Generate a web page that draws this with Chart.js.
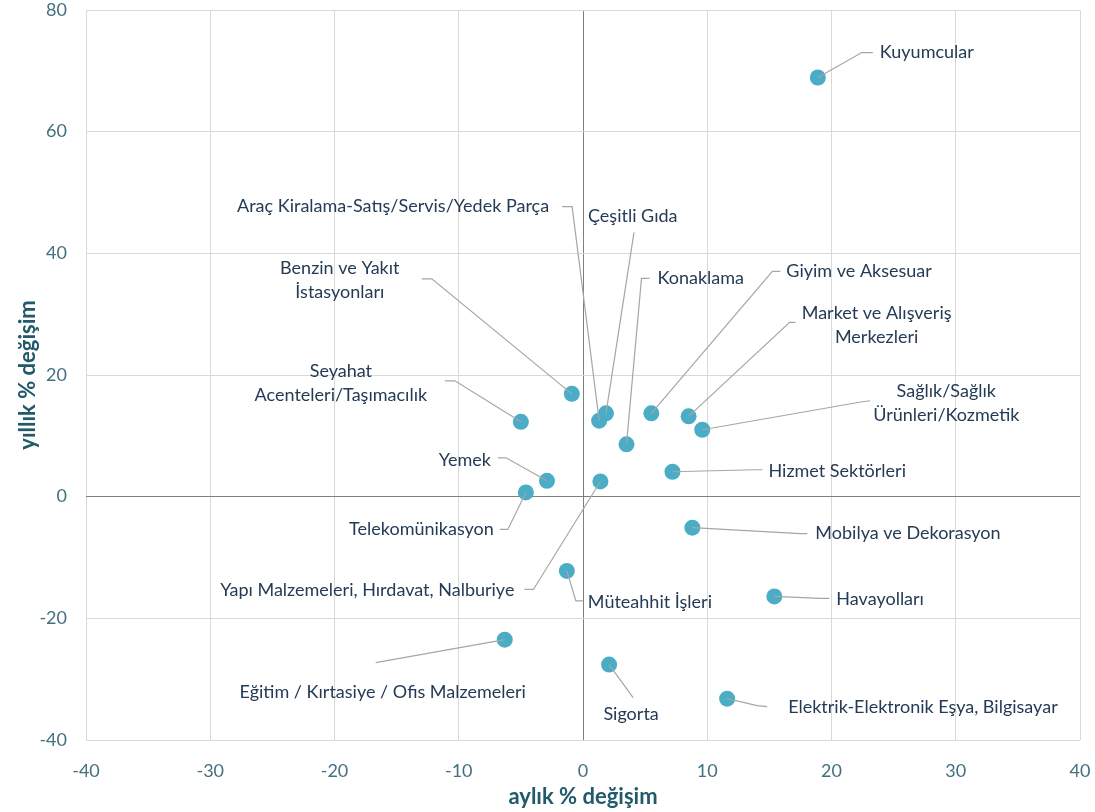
<!DOCTYPE html>
<html>
<head>
<meta charset="utf-8">
<script src="https://cdn.jsdelivr.net/npm/chart.js@4.4.1/dist/chart.umd.min.js"></script>
<style>
    html, body { margin: 0; padding: 0; background: #fff; }
    #wrap { width: 1095px; height: 812px; }
</style>
</head>
<body>
<div id="wrap"><canvas id="chart"></canvas></div>
<script>
"use strict";

// sektörler
var sectors = [
    'Kuyumcular',
    'Araç Kiralama-Satış/Servis/Yedek Parça',
    'Çeşitli Gıda',
    'Konaklama',
    'Giyim ve Aksesuar',
    'Market ve Alışveriş\nMerkezleri',
    'Sağlık/Sağlık\nÜrünleri/Kozmetik',
    'Benzin ve Yakıt\nİstasyonları',
    'Seyahat\nAcenteleri/Taşımacılık',
    'Yemek',
    'Telekomünikasyon',
    'Yapı Malzemeleri, Hırdavat, Nalburiye',
    'Hizmet Sektörleri',
    'Mobilya ve Dekorasyon',
    'Müteahhit İşleri',
    'Havayolları',
    'Eğitim / Kırtasiye / Ofis Malzemeleri',
    'Sigorta',
    'Elektrik-Elektronik Eşya, Bilgisayar'
];
var monthlyChange = [18.9, 1.3, 1.85, 3.5, 5.5, 8.5, 9.6, -0.9, -5.0, -2.9, -4.6, 1.4, 7.2, 8.8, -1.3, 15.4, -6.3, 2.1, 11.6];
var annualChange  = [68.9, 12.5, 13.7, 8.6, 13.7, 13.2, 11.0, 16.9, 12.3, 2.6, 0.7, 2.5, 4.1, -5.1, -12.2, -16.4, -23.5, -27.6, -33.2];

var xTicks = [-40, -30, -20, -10, 0, 10, 20, 30, 40];
var yTicks = [-40, -20, 0, 20, 40, 60, 80];

// etiket yerleşimi: nokta pikselinden kayma, hizalama, bağlantı çizgisi kırılımları
var labelLayout = [
    {dx: 62, dy: -25, align: 'left', leader: [[55, -25], [44, -25]]},
    {dx: -50, dy: -214, align: 'right', leader: [[-37, -214], [-27, -214]]},
    {dx: -18, dy: -197, align: 'left', leader: [[28, -181]]},
    {dx: 31, dy: -166, align: 'left', leader: [[23, -166], [15, -166]]},
    {dx: 135, dy: -142, align: 'left', leader: [[129, -142], [121, -142]]},
    {dx: 188, dy: -103, align: 'center', leader: [[107, -94], [101, -94]]},
    {dx: 244, dy: -39, align: 'center', leader: [[168, -29], [160, -28]]},
    {dx: -232, dy: -126, align: 'center', leader: [[-150, -115], [-140, -115]]},
    {dx: -180, dy: -51, align: 'center', leader: [[-76, -41], [-66, -41]]},
    {dx: -56, dy: -21, align: 'right', leader: [[-49, -23], [-41, -23]]},
    {dx: -32, dy: 37, align: 'right', leader: [[-26, 37], [-18, 37]]},
    {dx: -86, dy: 109, align: 'right', leader: [[-76, 108], [-67, 108]]},
    {dx: 96, dy: -1, align: 'left', leader: [[90, -2], [82, -2]]},
    {dx: 123, dy: 5, align: 'left', leader: [[115, 6], [108, 6]]},
    {dx: 21, dy: 31, align: 'left', leader: [[16, 30], [9, 30]]},
    {dx: 62, dy: 3, align: 'left', leader: [[55, 2], [46, 2]]},
    {dx: -122, dy: 53, align: 'center', leader: [[-129, 23]]},
    {dx: 22, dy: 50, align: 'center', leader: [[24, 33]]},
    {dx: 61, dy: 9, align: 'left', leader: [[40, 8], [30, 7]]}
];

var tickColor = '#44707f';
var titleColor = '#215a6b';
var labelColor = '#243b55';
var fontFamily = 'Lato, "Open Sans", sans-serif';

var points = [];
for (var i = 0; i < sectors.length; i++) {
    points.push({x: monthlyChange[i], y: annualChange[i]});
}

var labelPlugin = {
    id: 'sectorLabels',
    afterDatasetsDraw: function(chart) {
        var ctx = chart.ctx;
        var meta = chart.getDatasetMeta(0);
        ctx.save();
        ctx.font = '18px ' + fontFamily;
        ctx.textBaseline = 'middle';
        meta.data.forEach(function(el, i) {
            var lay = labelLayout[i];
            var px = el.x, py = el.y;
            // bağlantı çizgisi
            ctx.beginPath();
            ctx.strokeStyle = '#a6a6a6';
            ctx.lineWidth = 1.2;
            ctx.moveTo(px + lay.leader[0][0], py + lay.leader[0][1]);
            for (var k = 1; k < lay.leader.length; k++) {
                ctx.lineTo(px + lay.leader[k][0], py + lay.leader[k][1]);
            }
            ctx.lineTo(px, py);
            ctx.stroke();
            // metin
            ctx.fillStyle = labelColor;
            ctx.textAlign = lay.align;
            var lines = sectors[i].split('\n');
            lines.forEach(function(line, j) {
                ctx.fillText(line, px + lay.dx, py + lay.dy + j * 24);
            });
        });
        ctx.restore();
    }
};

function gridColor(c) {
    return c.tick && c.tick.value === 0 ? '#7f7f7f' : '#d9d9d9';
}

var ctx = document.getElementById('chart').getContext('2d');
var chart = new Chart(ctx, {
    type: 'scatter',
    data: {
        datasets: [{
            data: points,
            backgroundColor: '#4bacc6',
            borderColor: '#4bacc6',
            borderWidth: 0,
            pointRadius: 8,
            pointHoverRadius: 8
        }]
    },
    options: {
        responsive: true,
        maintainAspectRatio: false,
        animation: false,
        layout: {padding: {top: 10, right: 15, left: 0, bottom: 0}},
        plugins: {
            legend: {display: false},
            tooltip: {enabled: false}
        },
        scales: {
            x: {
                type: 'linear',
                min: -40,
                max: 40,
                afterBuildTicks: function(scale) {
                    scale.ticks = xTicks.map(function(v) { return {value: v}; });
                },
                afterFit: function(scale) {
                    scale.height = 72;
                    scale.paddingLeft = 0;
                    scale.paddingRight = 0;
                },
                grid: {drawTicks: false, color: gridColor, lineWidth: 1},
                border: {display: false},
                ticks: {
                    padding: 20,
                    color: tickColor,
                    font: {family: fontFamily, size: 18}
                },
                title: {
                    display: true,
                    text: 'aylık % değişim',
                    color: titleColor,
                    padding: {top: 0, bottom: 2},
                    font: {family: fontFamily, size: 22, weight: 'bold'}
                }
            },
            y: {
                type: 'linear',
                min: -40,
                max: 80,
                afterBuildTicks: function(scale) {
                    scale.ticks = yTicks.map(function(v) { return {value: v}; });
                },
                afterFit: function(scale) {
                    scale.width = 86;
                    scale.paddingTop = 0;
                    scale.paddingBottom = 0;
                },
                grid: {drawTicks: false, color: gridColor, lineWidth: 1},
                border: {display: false},
                ticks: {
                    padding: 19,
                    color: tickColor,
                    font: {family: fontFamily, size: 18}
                },
                title: {
                    display: true,
                    text: 'yıllık % değişim',
                    color: titleColor,
                    padding: {top: 15, bottom: 0},
                    font: {family: fontFamily, size: 22, weight: 'bold'}
                }
            }
        }
    },
    plugins: [labelPlugin]
});
</script>
</body>
</html>
